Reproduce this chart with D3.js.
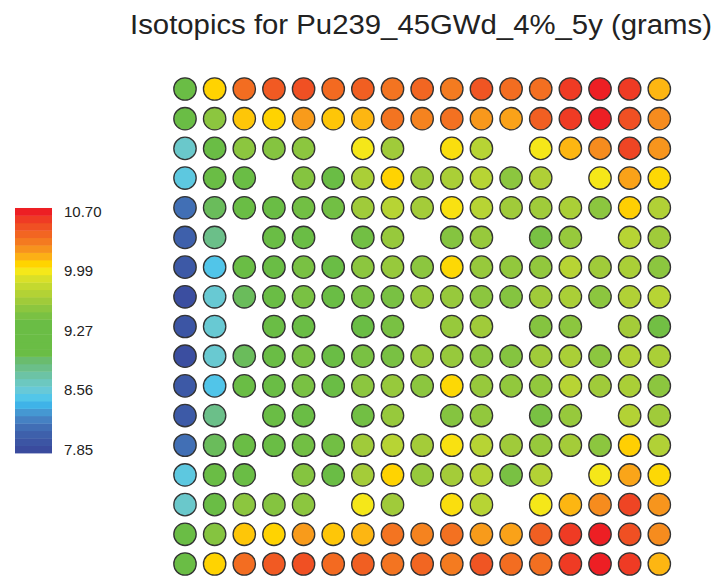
<!DOCTYPE html>
<html>
<head>
<meta charset="utf-8">
<script src="https://cdn.jsdelivr.net/npm/d3@7"></script>
<style>
  html, body { margin: 0; padding: 0; background: #ffffff; }
  svg { display: block; }
</style>
</head>
<body>
<svg id="chart" width="717" height="576"></svg>
<script>
// Pu-239 content per fuel pin (grams), 17x17 lattice, null = guide tube
const row00 = [9.27, 10.08, 10.40, 10.48, 10.52, 10.41, 10.46, 10.37, 10.43, 10.34, 10.50, 10.40, 10.39, 10.61, 10.70, 10.61, 10.15];
const row01 = [9.27, 9.54, 10.11, 10.08, 10.23, 10.11, 10.15, 10.37, 10.31, 10.38, 10.24, 10.21, 10.46, 10.61, 10.70, 10.52, 10.28];
const row02 = [8.61, 9.27, 9.54, 9.51, 9.54, null, 9.99, 9.63, null, 10.03, 9.74, null, 9.99, 10.15, 10.28, 10.57, 10.25];
const row03 = [8.52, 9.27, 9.27, null, 9.51, 9.36, 9.68, 10.08, 9.63, 9.68, 9.74, 9.54, 9.70, null, 9.99, 10.21, 10.06];
const row04 = [8.12, 8.96, 9.27, 9.27, 9.41, 9.41, 9.63, 9.74, 9.65, 10.02, 9.74, 9.63, 9.63, 9.68, 9.54, 10.09, 9.71];
const row05 = [8.03, 8.83, null, 9.27, 9.27, null, 9.41, 9.59, null, 9.51, 9.59, null, 9.45, 9.59, null, 9.74, 9.63];
const row06 = [7.97, 8.47, 9.27, 9.27, 9.45, 9.36, 9.54, 9.59, 9.54, 10.06, 9.59, 9.57, 9.57, 9.74, 9.63, 9.68, 9.54];
const row07 = [7.88, 8.58, 8.96, 9.27, 9.45, 9.36, 9.45, 9.45, 9.59, 9.59, 9.54, 9.51, 9.63, 9.68, 9.54, 9.71, 9.74];
const row08 = [7.94, 8.58, null, 9.27, 9.32, null, 9.36, 9.45, null, 9.59, 9.63, null, 9.51, 9.54, null, 9.65, 9.41];
const row09 = [7.88, 8.59, 8.96, 9.27, 9.45, 9.36, 9.45, 9.45, 9.59, 9.59, 9.54, 9.51, 9.63, 9.68, 9.54, 9.71, 9.68];
const row10 = [7.97, 8.47, 9.27, 9.27, 9.45, 9.36, 9.54, 9.59, 9.54, 10.06, 9.59, 9.57, 9.57, 9.74, 9.63, 9.68, 9.54];
const row11 = [7.98, 8.83, null, 9.27, 9.27, null, 9.41, 9.59, null, 9.51, 9.57, null, 9.45, 9.59, null, 9.72, 9.63];
const row12 = [8.12, 8.96, 9.27, 9.27, 9.41, 9.41, 9.63, 9.74, 9.65, 10.02, 9.74, 9.63, 9.59, 9.65, 9.54, 10.09, 9.71];
const row13 = [8.52, 9.27, 9.27, null, 9.51, 9.36, 9.65, 10.08, 9.59, 9.65, 9.72, 9.45, 9.72, null, 9.99, 10.20, 10.06];
const row14 = [8.61, 9.27, 9.54, 9.51, 9.54, null, 9.99, 9.63, null, 10.03, 9.74, null, 9.99, 10.15, 10.28, 10.57, 10.25];
const row15 = [9.27, 9.51, 10.11, 10.08, 10.23, 10.11, 10.15, 10.37, 10.31, 10.38, 10.23, 10.21, 10.46, 10.61, 10.70, 10.52, 10.28];
const row16 = [9.27, 10.08, 10.40, 10.48, 10.52, 10.41, 10.46, 10.37, 10.43, 10.34, 10.50, 10.40, 10.39, 10.61, 10.70, 10.61, 10.15];

// colour bar: 33 bands from lowest to highest
const bandColors = [
  "#3a4b9e", "#3c55a4", "#3e60ab", "#416eb5", "#4581c3", "#4598d2", "#3fb3e8",
  "#52c6e9", "#67c9d8", "#6cc8c0", "#6cc3a5", "#6bbf89", "#6abc6e",
  "#6abd45", "#6abd45", "#6abd45", "#6abd45", "#6abd45",
  "#7ac143", "#8cc63f", "#a0cb3a", "#b3d235", "#c4d92f", "#d9e028", "#f5e81a",
  "#ffd400", "#fcb016", "#f7931d", "#f47a20", "#f26522", "#f05023", "#ef3b24", "#ed1f24"
];
const legendTicks = [10.70, 9.99, 9.27, 8.56, 7.85];
const legendLabels = ["10.70", "9.99", "9.27", "8.56", "7.85"];
const titleText = "Isotopics for Pu239_45GWd_4%_5y (grams)";

const rows = [row00, row01, row02, row03, row04, row05, row06, row07, row08,
              row09, row10, row11, row12, row13, row14, row15, row16];
const nCols = row00.length;

const vMin = d3.min(legendTicks), vMax = d3.max(legendTicks);
const step = (vMax - vMin) / (bandColors.length - 1);
const bandCenters = bandColors.map((_, i) => vMin + i * step);

// continuous fill for the pins, stepped bands for the bar
const fill = d3.scaleLinear().domain(bandCenters).range(bandColors)
  .interpolate(d3.interpolateRgb).clamp(true);

const svg = d3.select("#chart");

svg.append("text")
  .attr("x", 130).attr("y", 34)
  .attr("font-family", "'Liberation Sans', Arial, Helvetica, sans-serif")
  .attr("font-size", 27).attr("fill", "#222")
  .attr("textLength", 582).attr("lengthAdjust", "spacingAndGlyphs")
  .text(titleText);

// pin lattice
const x = d3.scalePoint().domain(d3.range(nCols)).range([185, 659.3]);
const y = d3.scalePoint().domain(d3.range(rows.length)).range([89, 564]);
const pins = [];
rows.forEach((r, j) => r.forEach((v, i) => { if (v !== null) pins.push({ i, j, v }); }));

svg.append("g").selectAll("circle").data(pins).join("circle")
  .attr("cx", d => x(d.i)).attr("cy", d => y(d.j)).attr("r", 11.2)
  .attr("fill", d => fill(d.v))
  .attr("stroke", "#333").attr("stroke-width", 1.3);

// colour bar
const ly = d3.scaleLinear().domain([vMin, vMax]).range([449.3, 211.7]);
const bar = svg.append("g");
bar.selectAll("rect").data(bandCenters).join("rect")
  .attr("x", 15).attr("width", 37)
  .attr("y", d => ly(d + step / 2))
  .attr("height", d => ly(d - step / 2) - ly(d + step / 2) + 0.4)
  .attr("fill", (d, i) => bandColors[i]);

const axis = d3.axisRight(ly).tickValues(legendTicks)
  .tickFormat((d, i) => legendLabels[i]).tickSize(0).tickPadding(12);
const ag = svg.append("g").attr("transform", "translate(52,0)").call(axis);
ag.select(".domain").remove();
ag.selectAll("text")
  .attr("font-family", "'Liberation Sans', Arial, Helvetica, sans-serif")
  .attr("font-size", 15).attr("fill", "#222");
</script>
</body>
</html>
